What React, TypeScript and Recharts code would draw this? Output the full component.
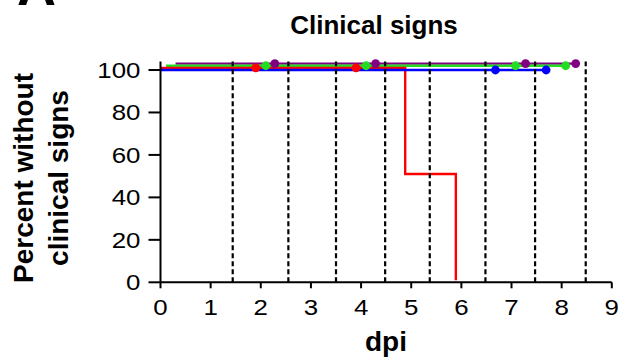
import React from "react";
import { ComposedChart, Line, Scatter, XAxis, YAxis, ReferenceLine } from "recharts";

// days post infection for axis ticks, percent ticks (majors labelled every 20)
const dayTicks = [0, 1, 2, 3, 4, 5, 6, 7, 8, 9];
const percentTicks = [0, 10, 20, 30, 40, 50, 60, 70, 80, 90, 100];

// sampling / treatment days shown as dashed verticals
const markerDays = [1.44, 2.55, 3.5, 4.48, 5.37, 6.48, 7.47, 8.48];

// survival curves (values as plotted, groups nudged apart)
const purpleDays = [0.3, 8.28];
const purpleValues = [103, 103];
const purpleCensored = [2.28, 4.29, 7.28, 8.28];

const greenDays = [0.11, 8.08];
const greenValues = [102, 102];
const greenCensored = [2.1, 4.1, 7.08, 8.08];

const redDays = [0, 4.88, 5.89];
const redValues = [101, 51, 1];
const redCensored = [1.9, 3.9];

const blueDays = [0, 7.69];
const blueValues = [100, 100];
const blueCensored = [6.68, 7.69];

const FONT = "'Liberation Sans', Arial, sans-serif";

const toPoints = (days: number[], values: number[]) =>
  days.map((x, i) => ({ x, y: values[i] }));

const censorPoints = (days: number[], level: number) => days.map((x) => ({ x, y: level }));

const groups = [
  { key: "purple", color: "#800080", days: purpleDays, values: purpleValues, censored: purpleCensored },
  { key: "green", color: "#22dd22", days: greenDays, values: greenValues, censored: greenCensored },
  { key: "red", color: "#ff0000", days: redDays, values: redValues, censored: redCensored },
  { key: "blue", color: "#0000ff", days: blueDays, values: blueValues, censored: blueCensored },
];

// tick numerals are drawn a little wide
const TickText = ({ x, y, anchor, children }: any) => (
  <text
    transform={`translate(${x},${y}) scale(1.15,1)`}
    textAnchor={anchor}
    fontSize={22.5}
    fontFamily={FONT}
    fill="#000"
  >
    {children}
  </text>
);

const YTick = (props: any) => {
  const { x, y, payload } = props;
  const major = payload.value % 20 === 0;
  return (
    <g>
      <line x1={x} x2={x - (major ? 12 : 6)} y1={y} y2={y} stroke="#000" strokeWidth={2} />
      {major && (
        <TickText x={x - 20} y={y + 8} anchor="end">
          {payload.value}
        </TickText>
      )}
    </g>
  );
};

const XTick = (props: any) => {
  const { x, y, payload } = props;
  return (
    <TickText x={x} y={y + 27} anchor="middle">
      {payload.value}
    </TickText>
  );
};

const Dot = (color: string) => (props: any) =>
  <circle cx={props.cx} cy={props.cy} r={4.4} fill={color} />;

export default function App() {
  return (
    <div style={{ position: "absolute", left: 0, top: 0, width: 619, height: 358, background: "#fff" }}>
      <ComposedChart
        width={619}
        height={358}
        margin={{ top: 61.5, right: 7.2, bottom: 35.7, left: 100.5 }}
      >
        <XAxis
          type="number"
          dataKey="x"
          domain={[0, 9]}
          ticks={dayTicks}
          height={40}
          stroke="#000"
          strokeWidth={2}
          tickSize={6}
          tickMargin={0}
          tick={<XTick />}
          allowDecimals
        />
        <YAxis
          type="number"
          dataKey="y"
          domain={[0, 104]}
          ticks={percentTicks}
          width={60}
          stroke="#000"
          strokeWidth={2}
          tickLine={false}
          tickSize={0}
          tickMargin={0}
          tick={<YTick />}
        />
        {groups.map((g) => (
          <Scatter
            key={`${g.key}-censored`}
            data={censorPoints(g.censored, g.values[0])}
            dataKey="y"
            shape={Dot(g.color)}
            isAnimationActive={false}
          />
        ))}
        {groups.map((g) => (
          <Line
            key={g.key}
            data={toPoints(g.days, g.values)}
            dataKey="y"
            type="stepAfter"
            stroke={g.color}
            strokeWidth={2.4}
            dot={false}
            activeDot={false}
            isAnimationActive={false}
          />
        ))}
        {markerDays.map((d) => (
          <ReferenceLine key={d} x={d} stroke="#000" strokeWidth={2.2} strokeDasharray="5 3" />
        ))}
      </ComposedChart>
      <svg
        width={619}
        height={358}
        style={{ position: "absolute", left: 0, top: 0, pointerEvents: "none" }}
      >
        <text x={17} y={5} fontSize={54} fontWeight="bold" fontFamily={FONT} fill="#000">
          A
        </text>
        <text x={374} y={34} textAnchor="middle" fontSize={26} fontWeight="bold" fontFamily={FONT} fill="#000">
          Clinical signs
        </text>
        <text
          transform="translate(33,178) rotate(-90)"
          textAnchor="middle"
          fontSize={28}
          fontWeight="bold"
          fontFamily={FONT}
          fill="#000"
        >
          Percent without
        </text>
        <text
          transform="translate(68,178) rotate(-90)"
          textAnchor="middle"
          fontSize={28}
          fontWeight="bold"
          fontFamily={FONT}
          fill="#000"
        >
          clinical signs
        </text>
        <text x={386} y={351} textAnchor="middle" fontSize={28} fontWeight="bold" fontFamily={FONT} fill="#000">
          dpi
        </text>
      </svg>
    </div>
  );
}
